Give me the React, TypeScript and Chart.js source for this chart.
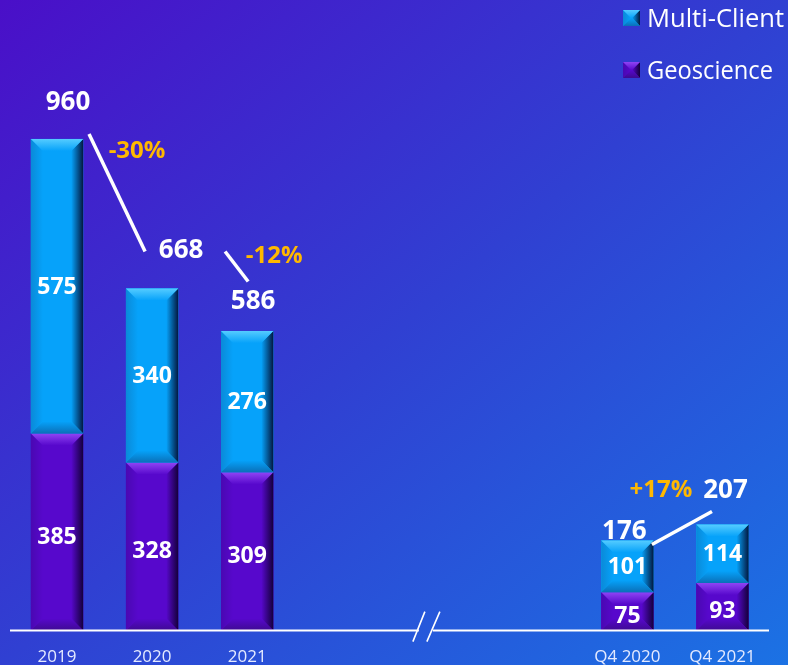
import React, { useEffect, useRef } from 'react';
import { Chart, registerables } from 'chart.js';
Chart.register(...registerables);

// ---- data ----
const categories = ['2019', '2020', '2021', '', '', '', 'Q4 2020', 'Q4 2021'];
const geoscience = [385, 328, 309, null, null, null, 75, 93];
const multiClient = [575, 340, 276, null, null, null, 101, 114];
const totals = [960, 668, 586, null, null, null, 176, 207];
const seriesNames = ['Geoscience', 'Multi-Client'];
const growthLabels = ['-30%', '-12%', '+17%'];
const growthPairs = [[0, 1], [1, 2], [6, 7]];

// ---- layout / styling (not data) ----
const totalOffsets: Record<number, [number, number]> = {
  0: [11, -36], 1: [29, -38], 2: [6, -29], 6: [-3, -9], 7: [3, -34],
};
// [startDx, startDy, endDx, endDy] relative to bar tops of the pair
const lineOffsets = [
  [32, -5, -7, -37],
  [73, -37, 1, -49],
  [24.5, 4, -10.5, -13],
];
// [barIndex, dx, dy]
const pctOffsets = [
  [0, 80, 12],
  [2, 27, -74],
  [7, -61.5, -34],
];

const PAL = {
  mc: { main: '#06a2fa', top: '#55ccff', bottom: '#0a70b8', dark: '#03173f', left: '#0a8ad8' },
  geo: { main: '#5708cc', top: '#9044f4', bottom: '#3e0a92', dark: '#14003a', left: '#4a08b2' },
};
const FONT = '"Open Sans", "Noto Sans", sans-serif';

function bevel(ctx: CanvasRenderingContext2D, l: number, t: number, r: number, b: number, c: any, bv: number) {
  const w = r - l, h = b - t;
  if (w <= 0 || h <= 0) return;
  const k = Math.min(bv, w / 2, h / 2);
  ctx.save();
  ctx.fillStyle = c.main;
  ctx.fillRect(l, t, w, h);
  // left
  let g = ctx.createLinearGradient(l, 0, l + k, 0);
  g.addColorStop(0, c.left); g.addColorStop(1, c.main);
  ctx.fillStyle = g;
  ctx.beginPath(); ctx.moveTo(l, t); ctx.lineTo(l + k, t + k); ctx.lineTo(l + k, b - k); ctx.lineTo(l, b); ctx.closePath(); ctx.fill();
  // right
  g = ctx.createLinearGradient(r - k, 0, r, 0);
  g.addColorStop(0, c.main); g.addColorStop(1, c.dark);
  ctx.fillStyle = g;
  ctx.beginPath(); ctx.moveTo(r, t); ctx.lineTo(r - k, t + k); ctx.lineTo(r - k, b - k); ctx.lineTo(r, b); ctx.closePath(); ctx.fill();
  // top
  g = ctx.createLinearGradient(0, t, 0, t + k);
  g.addColorStop(0, c.top); g.addColorStop(1, c.main);
  ctx.fillStyle = g;
  ctx.beginPath(); ctx.moveTo(l, t); ctx.lineTo(r, t); ctx.lineTo(r - k, t + k); ctx.lineTo(l + k, t + k); ctx.closePath(); ctx.fill();
  // bottom
  g = ctx.createLinearGradient(0, b - k, 0, b);
  g.addColorStop(0, c.main); g.addColorStop(1, c.bottom);
  ctx.fillStyle = g;
  ctx.beginPath(); ctx.moveTo(l, b); ctx.lineTo(r, b); ctx.lineTo(r - k, b - k); ctx.lineTo(l + k, b - k); ctx.closePath(); ctx.fill();
  ctx.restore();
}

const overlay = {
  id: 'overlay',
  afterDatasetsDraw(chart: any) {
    const ctx: CanvasRenderingContext2D = chart.ctx;
    const xs = chart.scales.x, ys = chart.scales.y;
    const ca = chart.chartArea;
    const pal = [PAL.geo, PAL.mc];
    // bevelled bars
    chart.data.datasets.forEach((ds: any, di: number) => {
      const meta = chart.getDatasetMeta(di);
      meta.data.forEach((el: any, i: number) => {
        if (ds.data[i] == null) return;
        const p = el.getProps(['x', 'y', 'base', 'width'], true);
        bevel(ctx, p.x - p.width / 2, p.y, p.x + p.width / 2, p.base, pal[di], 12);
      });
    });
    ctx.save();
    ctx.textAlign = 'center';
    ctx.textBaseline = 'middle';
    // inner labels
    ctx.fillStyle = '#ffffff';
    ctx.font = `bold 23px ${FONT}`;
    chart.data.datasets.forEach((ds: any, di: number) => {
      const meta = chart.getDatasetMeta(di);
      meta.data.forEach((el: any, i: number) => {
        const v = ds.data[i];
        if (v == null) return;
        const p = el.getProps(['x', 'y', 'base'], true);
        ctx.fillText(String(v), p.x, (p.y + p.base) / 2 + (di === 0 ? 5 : 1));
      });
    });
    // totals
    ctx.font = `bold 26px ${FONT}`;
    totals.forEach((t, i) => {
      if (t == null) return;
      const o = totalOffsets[i] || [0, -20];
      ctx.fillText(String(t), xs.getPixelForValue(i) + o[0], ys.getPixelForValue(t) + o[1]);
    });
    // growth lines
    ctx.strokeStyle = '#ffffff';
    ctx.lineWidth = 3.5;
    ctx.lineCap = 'butt';
    growthPairs.forEach(([a, b], k) => {
      const o = lineOffsets[k];
      ctx.beginPath();
      ctx.moveTo(xs.getPixelForValue(a) + o[0], ys.getPixelForValue(totals[a] as number) + o[1]);
      ctx.lineTo(xs.getPixelForValue(b) + o[2], ys.getPixelForValue(totals[b] as number) + o[3]);
      ctx.stroke();
    });
    // growth percentages
    ctx.fillStyle = '#ffb800';
    ctx.font = `bold 24px ${FONT}`;
    growthLabels.forEach((g, k) => {
      const [bi, dx, dy] = pctOffsets[k];
      ctx.fillText(g, xs.getPixelForValue(bi) + dx, ys.getPixelForValue(totals[bi] as number) + dy);
    });
    // baseline with break
    const by = ca.bottom;
    const bx = xs.getPixelForValue(2) + 0.47 * (xs.getPixelForValue(6) - xs.getPixelForValue(2));
    ctx.strokeStyle = '#ffffff';
    ctx.lineWidth = 2;
    ctx.beginPath();
    ctx.moveTo(ca.left + 0.5, by); ctx.lineTo(bx - 7, by);
    ctx.moveTo(bx + 7, by); ctx.lineTo(ca.right - 1, by);
    ctx.stroke();
    ctx.lineWidth = 1.6;
    ctx.beginPath();
    ctx.moveTo(bx - 13, by + 11); ctx.lineTo(bx - 1, by - 19);
    ctx.moveTo(bx + 1, by + 11); ctx.lineTo(bx + 14, by - 19);
    ctx.stroke();
    // legend (top right)
    ctx.textAlign = 'left';
    ctx.textBaseline = 'alphabetic';
    ctx.font = `26px ${FONT}`;
    ctx.fillStyle = '#ffffff';
    const items = [
      { name: seriesNames[1], c: PAL.mc, y: 10 },
      { name: seriesNames[0], c: PAL.geo, y: 62 },
    ];
    items.forEach((it) => {
      bevel(ctx, 623, it.y, 640, it.y + 16, it.c, 8.5);
      ctx.fillStyle = '#ffffff';
      ctx.fillText(it.name, 647, it.y + 17, it.name === 'Multi-Client' ? 137 : 126);
    });
    ctx.restore();
  },
};

export default function App() {
  const ref = useRef<HTMLCanvasElement>(null);
  useEffect(() => {
    const chart = new Chart(ref.current as HTMLCanvasElement, {
      type: 'bar',
      data: {
        labels: categories,
        datasets: [
          { label: seriesNames[0], data: geoscience as any, backgroundColor: PAL.geo.main, borderWidth: 0, stack: 's' },
          { label: seriesNames[1], data: multiClient as any, backgroundColor: PAL.mc.main, borderWidth: 0, stack: 's' },
        ],
      },
      options: {
        responsive: false,
        animation: false,
        layout: { padding: { left: 9.5, right: 18, top: 16, bottom: -18 } },
        datasets: { bar: { barPercentage: 0.55, categoryPercentage: 1 } },
        scales: {
          x: {
            stacked: true,
            grid: { display: false, drawTicks: false },
            border: { display: false },
            ticks: { color: '#e4eaff', font: { size: 17, family: FONT }, padding: 16, maxRotation: 0, autoSkip: false },
          },
          y: { stacked: true, display: false, min: 0, max: 1200 },
        },
        plugins: { legend: { display: false }, tooltip: { enabled: false } },
      },
      plugins: [overlay],
    });
    return () => chart.destroy();
  }, []);
  return (
    <div
      style={{
        position: 'absolute', left: 0, top: 0, width: 788, height: 665, overflow: 'hidden',
        background: 'linear-gradient(to bottom right, #4a0fc8 0%, #3040d2 50%, #1b72e4 100%)',
      }}
    >
      <canvas ref={ref} width={788} height={665} style={{ display: 'block' }} />
    </div>
  );
}
